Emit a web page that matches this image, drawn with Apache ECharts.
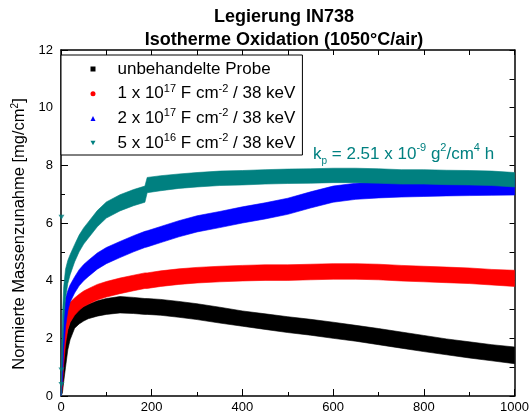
<!DOCTYPE html>
<html>
<head>
<meta charset="utf-8">
<script src="https://cdn.jsdelivr.net/npm/echarts@6/dist/echarts.min.js"></script>
<style>html,body{margin:0;padding:0;background:#fff;}#c{width:532px;height:417px;}</style>
</head>
<body>
<div id="c"></div>
<script>
// time (h)
var T = [0, 3, 6, 10, 15, 20, 30, 40, 50, 60, 80, 100, 130, 160, 185, 190, 220, 260, 300, 350, 400, 450, 500, 550, 600, 650, 700, 750, 800, 850, 900, 950, 1000];
// unbehandelte Probe (band lower / upper edge, mg/cm2)
var blackLo = [0, 0.1, 0.5, 1.0, 1.6, 1.95, 2.35, 2.5, 2.6, 2.68, 2.77, 2.83, 2.88, 2.86, 2.83, 2.83, 2.8, 2.73, 2.65, 2.53, 2.42, 2.31, 2.2, 2.11, 2.0, 1.9, 1.78, 1.66, 1.54, 1.43, 1.32, 1.22, 1.12];
var blackHi = [0, 0.8, 1.4, 1.9, 2.3, 2.55, 2.85, 3.0, 3.1, 3.18, 3.3, 3.38, 3.45, 3.42, 3.38, 3.38, 3.35, 3.28, 3.2, 3.08, 2.95, 2.85, 2.75, 2.66, 2.56, 2.45, 2.34, 2.22, 2.1, 1.98, 1.88, 1.78, 1.7];
// 1e17 F cm-2
var redLo = [0, 0.3, 1.1, 1.8, 2.3, 2.55, 2.8, 2.97, 3.1, 3.18, 3.33, 3.43, 3.55, 3.65, 3.73, 3.73, 3.8, 3.87, 3.92, 3.96, 3.99, 4.01, 4.01, 4.03, 4.05, 4.05, 4.03, 3.99, 3.96, 3.93, 3.9, 3.85, 3.8];
var redHi = [0, 1.5, 2.3, 2.8, 3.1, 3.25, 3.4, 3.53, 3.64, 3.72, 3.87, 3.97, 4.09, 4.19, 4.27, 4.27, 4.34, 4.41, 4.46, 4.5, 4.53, 4.55, 4.55, 4.57, 4.59, 4.59, 4.57, 4.53, 4.5, 4.47, 4.44, 4.39, 4.36];
// 2e17 F cm-2
var blueLo = [0, 0.5, 1.6, 2.4, 2.95, 3.25, 3.57, 3.82, 4.0, 4.14, 4.4, 4.59, 4.8, 5.0, 5.15, 5.17, 5.32, 5.52, 5.69, 5.84, 6.0, 6.14, 6.3, 6.52, 6.72, 6.82, 6.87, 6.9, 6.92, 6.94, 6.95, 6.96, 6.97];
var blueHi = [0, 1.9, 2.8, 3.4, 3.65, 3.85, 4.13, 4.38, 4.56, 4.7, 4.96, 5.15, 5.36, 5.56, 5.71, 5.73, 5.88, 6.08, 6.25, 6.4, 6.56, 6.7, 6.86, 7.08, 7.28, 7.38, 7.43, 7.46, 7.48, 7.5, 7.51, 7.52, 7.53];
// 5e16 F cm-2
var tealLo = [0, 1.3, 2.6, 3.4, 3.9, 4.2, 4.65, 5.0, 5.27, 5.47, 5.87, 6.17, 6.42, 6.6, 6.72, 7.05, 7.12, 7.2, 7.25, 7.3, 7.32, 7.35, 7.37, 7.38, 7.4, 7.4, 7.38, 7.35, 7.35, 7.33, 7.32, 7.3, 7.25];
var tealHi = [0, 2.7, 3.8, 4.4, 4.7, 4.9, 5.25, 5.58, 5.83, 6.03, 6.43, 6.73, 6.98, 7.16, 7.28, 7.58, 7.64, 7.7, 7.75, 7.8, 7.82, 7.85, 7.87, 7.88, 7.9, 7.9, 7.88, 7.85, 7.85, 7.83, 7.82, 7.8, 7.75];
var tealSpikes = [[1, 6.2], [1, 0.9], [1, 0.4]];

var seriesNames = ['unbehandelte Probe', '1 x 10{sup|17} F cm{sup|-2} / 38 keV', '2 x 10{sup|17} F cm{sup|-2} / 38 keV', '5 x 10{sup|16} F cm{sup|-2} / 38 keV'];
var seriesIds = ['s0', 's1', 's2', 's3'];
var colors = ['#000000', '#ff0000', '#0000ff', '#008080'];
var xTicks = [0, 200, 400, 600, 800, 1000];
var yTicks = [0, 2, 4, 6, 8, 10, 12];

function band(id, lo, hi, color) {
  return {
    type: 'custom', name: id, coordinateSystem: 'cartesian2d',
    itemStyle: {color: color}, silent: true, animation: false,
    data: [[T[0], lo[0]]],
    renderItem: function (params, api) {
      var pts = [];
      for (var i = 0; i < T.length; i++) pts.push(api.coord([T[i], lo[i]]));
      for (var j = T.length - 1; j >= 0; j--) pts.push(api.coord([T[j], hi[j]]));
      return {type: 'polygon', shape: {points: pts}, style: {fill: color, stroke: color, lineWidth: 0.6}};
    }
  };
}

var FONT = '"Liberation Sans", Arial, sans-serif';
var chart = echarts.init(document.getElementById('c'), null, {renderer: 'canvas'});
var nameMap = {};
seriesIds.forEach(function (id, i) { nameMap[id] = seriesNames[i]; });

chart.setOption({
  backgroundColor: '#fff',
  animation: false,
  title: {
    text: 'Legierung IN738\nIsotherme Oxidation (1050°C/air)',
    left: 279, top: 1, textAlign: 'center',
    textStyle: {fontFamily: FONT, fontWeight: 'bold', fontSize: 18, color: '#000', lineHeight: 23}
  },
  grid: {left: 61, right: 15, top: 50, bottom: 21, containLabel: false},
  legend: {
    data: [
      {name: 's0', icon: 'rect'},
      {name: 's1', icon: 'circle'},
      {name: 's2', icon: 'triangle'},
      {name: 's3', icon: 'path://M0,0L10,0L5,9Z'}
    ],
    orient: 'vertical', left: 61, top: 55,
    itemWidth: 5, itemHeight: 5, itemGap: 3.7,
    padding: [3.5, 7, 1.4, 29.5],
    borderColor: '#000', borderWidth: 1, backgroundColor: '#fff',
    selectedMode: false,
    formatter: function (n) { return nameMap[n]; },
    textStyle: {
      fontFamily: FONT, fontSize: 17, color: '#000', lineHeight: 21, padding: [0, 0, 0, 17],
      rich: {sup: {fontFamily: FONT, fontSize: 11, color: '#000', verticalAlign: 'top', lineHeight: 12}}
    }
  },
  xAxis: [{
    type: 'value', min: 0, max: 1000, interval: 200, position: 'bottom',
    axisLine: {show: true, onZero: false, lineStyle: {color: '#000', width: 1.5}},
    axisTick: {show: true, inside: true, length: 7, lineStyle: {color: '#000', width: 1}},
    minorTick: {show: true, splitNumber: 2, length: 4, lineStyle: {color: '#000', width: 1}},
    splitLine: {show: false},
    axisLabel: {fontFamily: FONT, fontSize: 13, color: '#000', margin: 5,
      formatter: function (v) { return xTicks.indexOf(v) >= 0 ? String(v) : ''; }}
  }, {
    type: 'value', min: 0, max: 1000, interval: 100, position: 'top',
    axisLine: {show: true, onZero: false, lineStyle: {color: '#000', width: 1.5}},
    axisTick: {show: true, inside: true, length: 5, lineStyle: {color: '#000', width: 1}},
    axisLabel: {show: false}, splitLine: {show: false}
  }],
  yAxis: [{
    type: 'value', min: 0, max: 12, interval: 2, position: 'left',
    name: 'Normierte Massenzunahme [mg/cm{sup|2}]',
    nameLocation: 'middle', nameGap: 33,
    nameTextStyle: {fontFamily: FONT, fontSize: 16.5, color: '#000', padding: [0, 22, 0, 0],
      rich: {sup: {fontFamily: FONT, fontSize: 10, color: '#000', verticalAlign: 'top'}}},
    axisLine: {show: true, onZero: false, lineStyle: {color: '#000', width: 1.5}},
    axisTick: {show: true, inside: true, length: 7, lineStyle: {color: '#000', width: 1}},
    minorTick: {show: true, splitNumber: 2, length: 4, lineStyle: {color: '#000', width: 1}},
    splitLine: {show: false},
    axisLabel: {fontFamily: FONT, fontSize: 13, color: '#000', margin: 8,
      formatter: function (v) { return yTicks.indexOf(v) >= 0 ? String(v) : ''; }}
  }, {
    type: 'value', min: 0, max: 12, interval: 1, position: 'right',
    axisLine: {show: true, onZero: false, lineStyle: {color: '#000', width: 1.5}},
    axisTick: {show: true, inside: true, length: 5, lineStyle: {color: '#000', width: 1}},
    axisLabel: {show: false}, splitLine: {show: false}
  }],
  graphic: [{
    type: 'text', left: 313, top: 142, z: 10,
    style: {
      text: 'k{sub|p} = 2.51 x 10{sup|-9} g{sup|2}/cm{sup|4} h',
      fill: '#008080', fontFamily: FONT, fontSize: 17, lineHeight: 24,
      rich: {
        sup: {fontFamily: FONT, fontSize: 11, fill: '#008080', verticalAlign: 'top', lineHeight: 12},
        sub: {fontFamily: FONT, fontSize: 10, fill: '#008080', verticalAlign: 'bottom', lineHeight: 12}
      }
    }
  }],
  series: [
    band('s0', blackLo, blackHi, colors[0]),
    band('s1', redLo, redHi, colors[1]),
    band('s2', blueLo, blueHi, colors[2]),
    band('s3', tealLo, tealHi, colors[3]),
    {type: 'scatter', name: 'spikes', data: tealSpikes, symbol: 'path://M0,0L10,0L5,9Z', symbolSize: [6, 5],
     itemStyle: {color: colors[3]}, silent: true, animation: false}
  ]
});
</script>
</body>
</html>
